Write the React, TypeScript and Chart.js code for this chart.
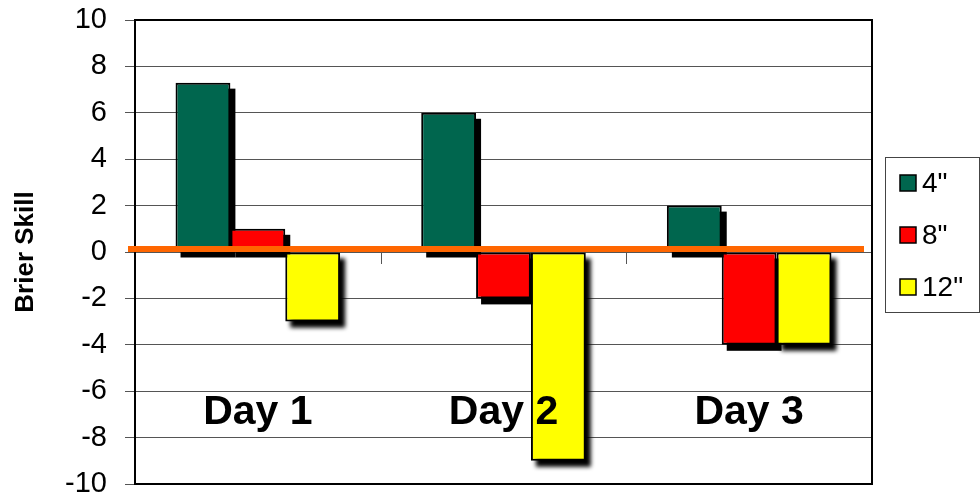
import React, { useEffect, useRef } from 'react';
import { Chart, registerables } from 'chart.js';

Chart.register(...registerables);

// Forecast days and snowfall thresholds
const categories = ['Day 1', 'Day 2', 'Day 3'];
const seriesNames = ['4"', '8"', '12"'];

// Brier skill scores per threshold
const skill4in = [7.3, 6, 2];
const skill8in = [1, -2, -4];
const skill12in = [-3, -9, -4];

const seriesColors = ['#00664E', '#FF0000', '#FFFF00'];

// Value axis
const yMin = -10;
const yMax = 10;
const yStep = 2;
const yTitle = 'Brier Skill';

const FONT = 'Arial, "Liberation Sans", sans-serif';
Chart.defaults.font.family = FONT;

// Black drop shadows behind each bar, plus the frame and small category ticks on the zero line
const underlayPlugin = {
  id: 'underlay',
  beforeDatasetsDraw(chart: any) {
    const { ctx, chartArea } = chart;
    const yScale = chart.scales.y;
    const xScale = chart.scales.x;
    const y0 = yScale.getPixelForValue(0);
    ctx.save();

    // frame around the plot area
    ctx.strokeStyle = '#000';
    ctx.lineWidth = 2;
    ctx.strokeRect(chartArea.left, chartArea.top, chartArea.right - chartArea.left, chartArea.bottom - chartArea.top);

    // category separators below the zero line
    ctx.strokeStyle = '#555';
    ctx.lineWidth = 1;
    for (let i = 1; i < categories.length; i++) {
      const bx = Math.round((xScale.getPixelForValue(i - 1) + xScale.getPixelForValue(i)) / 2) + 0.5;
      ctx.beginPath();
      ctx.moveTo(bx, y0);
      ctx.lineTo(bx, y0 + 12);
      ctx.stroke();
    }

    // shadows
    chart.data.datasets.forEach((ds: any, i: number) => {
      const meta = chart.getDatasetMeta(i);
      meta.data.forEach((bar: any) => {
        const { x, y, base, width } = bar.getProps(['x', 'y', 'base', 'width'], true);
        const top = Math.min(y, base);
        const h = Math.abs(base - y);
        ctx.fillStyle = '#000';
        ctx.filter = i === 2 ? 'blur(2px)' : 'none';
        ctx.fillRect(x - width / 2 + 5, top + 6, width, h);
      });
    });
    ctx.filter = 'none';
    ctx.restore();
  },
};

// Orange zero line and large category names drawn over the bars
const overlayPlugin = {
  id: 'overlay',
  afterDatasetsDraw(chart: any) {
    const { ctx, chartArea } = chart;
    const yScale = chart.scales.y;
    const xScale = chart.scales.x;
    const y0 = yScale.getPixelForValue(0);
    ctx.save();
    ctx.fillStyle = '#FF6600';
    ctx.fillRect(chartArea.left - 7, y0 - 6, chartArea.right - chartArea.left - 1, 6);

    ctx.fillStyle = '#000';
    ctx.font = `bold 41px ${FONT}`;
    ctx.textAlign = 'center';
    ctx.textBaseline = 'alphabetic';
    const labelY = yScale.getPixelForValue(-7.4);
    categories.forEach((c, i) => {
      ctx.fillText(c, xScale.getPixelForValue(i), labelY);
    });
    ctx.restore();
  },
};

// Boxed legend at the right of the plot
const sideLegendPlugin = {
  id: 'sideLegend',
  afterDraw(chart: any) {
    const { ctx, chartArea } = chart;
    const left = chartArea.right + 13;
    const top = 157;
    const w = 94;
    const h = 155;
    ctx.save();
    ctx.fillStyle = '#fff';
    ctx.fillRect(left, top, w, h);
    ctx.strokeStyle = '#444';
    ctx.lineWidth = 1;
    ctx.strokeRect(left + 0.5, top + 0.5, w, h);

    ctx.font = `28px ${FONT}`;
    ctx.textAlign = 'left';
    ctx.textBaseline = 'alphabetic';
    chart.data.datasets.forEach((ds: any, i: number) => {
      const cy = top + 26 + i * 52;
      ctx.fillStyle = ds.backgroundColor;
      ctx.fillRect(left + 15, cy - 8, 16, 16);
      ctx.strokeStyle = '#000';
      ctx.lineWidth = 1.5;
      ctx.strokeRect(left + 15, cy - 8, 16, 16);
      ctx.fillStyle = '#000';
      ctx.fillText(ds.label, left + 37, cy + 9);
    });
    ctx.restore();
  },
};

export default function App() {
  const ref = useRef<HTMLCanvasElement>(null);

  useEffect(() => {
    const seriesValues = [skill4in, skill8in, skill12in];
    const chart = new Chart(ref.current as HTMLCanvasElement, {
      type: 'bar',
      data: {
        labels: categories,
        datasets: seriesValues.map((vals, i) => ({
          label: seriesNames[i],
          data: vals,
          backgroundColor: seriesColors[i],
          borderColor: '#000',
          borderWidth: 2,
          borderSkipped: false,
          categoryPercentage: 0.67,
          barPercentage: 1,
        })),
      },
      options: {
        responsive: false,
        animation: false,
        layout: { padding: { left: 0, top: 20, right: 108, bottom: 11 } },
        plugins: {
          legend: { display: false },
          tooltip: { enabled: false },
        },
        scales: {
          x: { display: false },
          y: {
            min: yMin,
            max: yMax,
            ticks: { stepSize: yStep, color: '#000', font: { size: 29 }, padding: 18 },
            grid: { color: '#555', lineWidth: 1, tickLength: 10 },
            border: { color: '#000', width: 2 },
            title: {
              display: true,
              text: yTitle,
              color: '#000',
              font: { size: 26, weight: 'bold' },
              padding: { top: 10, bottom: 0 },
            },
            afterFit(scale: any) {
              scale.width = 135;
              scale.paddingTop = 0;
              scale.paddingBottom = 0;
            },
          },
        },
      },
      plugins: [underlayPlugin, overlayPlugin, sideLegendPlugin],
    } as any);
    return () => chart.destroy();
  }, []);

  return (
    <div style={{ position: 'absolute', left: 0, top: 0, width: 980, height: 495, background: '#fff' }}>
      <canvas ref={ref} width={980} height={495} style={{ display: 'block', width: 980, height: 495 }} />
    </div>
  );
}
